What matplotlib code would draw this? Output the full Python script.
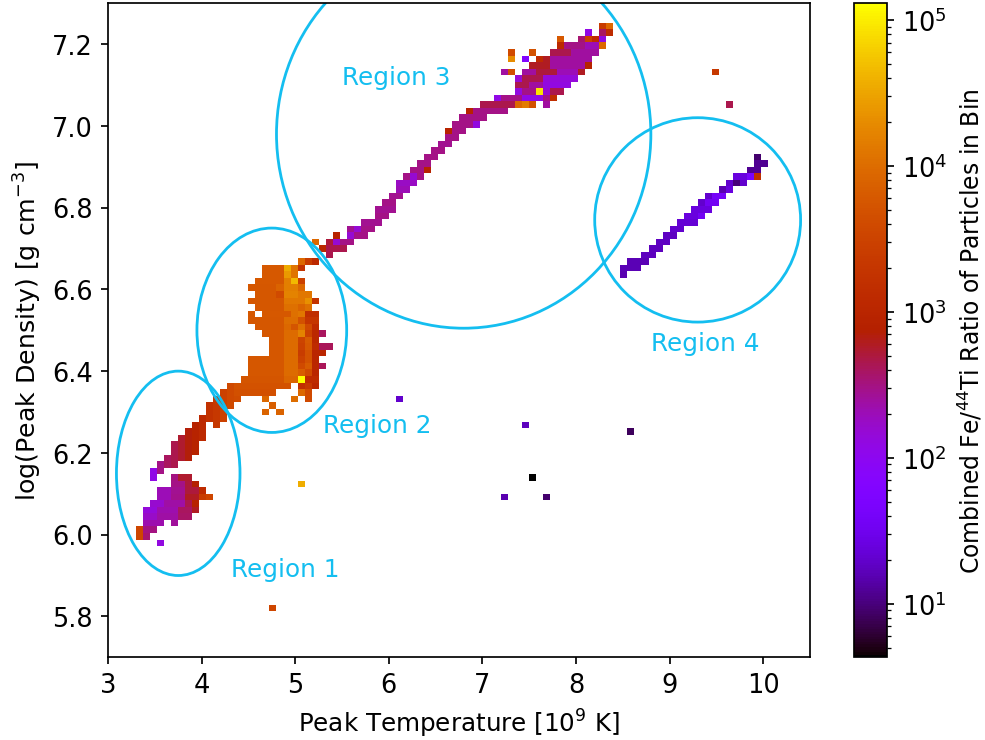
import numpy as np
import matplotlib
matplotlib.use("Agg")
import matplotlib.pyplot as plt
from matplotlib.colors import LogNorm
from matplotlib.patches import Ellipse

# 100 x 100 bins over the plotted range
T_EDGES = np.linspace(3.0, 10.5, 101)
RHO_EDGES = np.linspace(5.7, 7.3, 101)

# filled bins, as rows of bin indices:
# (density bin, first temperature bin, last temperature bin, Fe/44Ti ratio)
REGION1_BLOB = [
    (27, 9, 9, 320), (27, 10, 11, 550),
    (26, 9, 10, 300), (26, 11, 11, 500), (26, 12, 12, 800),
    (25, 7, 8, 200), (25, 9, 10, 280), (25, 11, 12, 520), (25, 13, 13, 1300),
    (24, 7, 8, 200), (24, 9, 10, 290), (24, 11, 12, 600), (24, 13, 13, 2500), (24, 14, 14, 3500),
    (23, 6, 7, 160), (23, 8, 10, 240), (23, 11, 11, 450), (23, 12, 12, 900),
    (22, 5, 6, 140), (22, 7, 9, 220), (22, 10, 11, 400), (22, 12, 12, 600),
    (21, 5, 6, 170), (21, 7, 9, 240), (21, 10, 11, 380),
    (20, 5, 7, 220), (20, 9, 9, 260),
    (19, 4, 4, 3500), (19, 5, 6, 320),
    (18, 4, 4, 3500), (18, 5, 5, 350),
    (17, 7, 7, 130),
]

# lower diagonal band, as columns: (temperature bin, first rho bin, last rho bin, ratio)
REGION1_BAND = [
    (6, 27, 28, 120), (7, 28, 29, 300), (8, 29, 30, 400), (9, 29, 32, 450),
    (10, 30, 33, 550), (11, 30, 34, 700), (12, 31, 35, 900), (13, 33, 36, 1200),
    (14, 36, 38, 1700), (15, 35, 39, 2200), (16, 36, 40, 3000), (17, 38, 41, 3800),
]

REGION2 = [
    (60, 27, 27, 9000), (60, 28, 28, 2500), (60, 29, 29, 1200),
    (59, 22, 24, 6000), (59, 25, 25, 35000), (59, 26, 26, 12000), (59, 27, 27, 1800),
    (58, 22, 24, 6000), (58, 25, 25, 25000), (58, 26, 26, 12000),
    (57, 21, 24, 6000), (57, 25, 25, 15000), (57, 26, 26, 45000), (57, 27, 27, 3000),
    (56, 20, 23, 5800), (56, 24, 24, 8000), (56, 25, 26, 15000), (56, 27, 27, 9000),
    (55, 21, 23, 5800), (55, 24, 24, 4000), (55, 25, 26, 16000), (55, 27, 28, 13000),
    (54, 20, 24, 5800), (54, 25, 27, 13000), (54, 28, 28, 22000), (54, 29, 29, 1800),
    (53, 21, 24, 5800), (53, 25, 26, 11000), (53, 27, 27, 8000), (53, 28, 28, 11000),
    (52, 20, 20, 5800), (52, 22, 25, 6000), (52, 26, 26, 11000), (52, 27, 27, 13000), (52, 28, 29, 1500),
    (51, 20, 24, 5800), (51, 25, 26, 10000), (51, 27, 27, 5000), (51, 28, 29, 2000),
    (50, 21, 24, 5800), (50, 25, 25, 9000), (50, 26, 26, 5500), (50, 27, 27, 11000),
    (50, 28, 28, 4000), (50, 29, 29, 1300),
    (49, 22, 24, 5800), (49, 25, 26, 9500), (49, 27, 27, 16000), (49, 28, 28, 3000),
    (49, 29, 29, 1100), (49, 30, 30, 400),
    (48, 23, 24, 5800), (48, 25, 26, 9500), (48, 27, 27, 3200), (48, 28, 28, 6500), (48, 29, 29, 1100),
    (47, 23, 24, 5800), (47, 25, 26, 9500), (47, 27, 27, 3000), (47, 28, 28, 6000),
    (47, 29, 29, 1300), (47, 30, 31, 420),
    (46, 23, 24, 5800), (46, 25, 26, 9500), (46, 27, 27, 2500), (46, 28, 28, 5000), (46, 29, 30, 1000),
    (45, 20, 24, 5800), (45, 25, 26, 9500), (45, 27, 27, 3000), (45, 28, 28, 5000), (45, 29, 29, 1000),
    (44, 20, 24, 5800), (44, 25, 26, 9500), (44, 27, 27, 4000), (44, 28, 28, 6500),
    (44, 29, 29, 1000), (44, 30, 30, 420),
    (43, 20, 24, 5800), (43, 25, 26, 9500), (43, 27, 27, 7000), (43, 28, 28, 4000), (43, 29, 29, 1000),
    (42, 19, 24, 5500), (42, 25, 26, 8500), (42, 27, 27, 130000), (42, 28, 29, 1300),
    (41, 18, 25, 5000), (41, 27, 27, 1500), (41, 28, 28, 2200), (41, 29, 29, 1000),
    (40, 18, 23, 4600), (40, 27, 27, 9000), (40, 28, 28, 4000),
    (39, 18, 18, 4200), (39, 22, 22, 9000), (39, 26, 26, 10000), (39, 28, 28, 4000),
    (38, 23, 23, 7000),
    (37, 22, 22, 8000), (37, 24, 24, 8000),
]

BAND2 = [
    (61, 31, 31, 450),
    (62, 30, 30, 1100), (62, 31, 33, 450),
    (63, 29, 29, 9000), (63, 31, 31, 500), (63, 32, 32, 150), (63, 33, 34, 300),
    (64, 32, 32, 900), (64, 34, 34, 150), (64, 35, 36, 300),
    (65, 34, 34, 280), (65, 35, 35, 150), (65, 36, 37, 300),
    (66, 36, 38, 280),
    (67, 38, 39, 300),
    (68, 38, 40, 280),
    (69, 39, 40, 300),
    (70, 40, 41, 280),
    (71, 41, 42, 200),
    (72, 41, 43, 180),
    (73, 42, 42, 300), (73, 43, 43, 150), (73, 44, 44, 300),
    (74, 43, 44, 300), (74, 45, 45, 900),
    (75, 44, 45, 300),
    (76, 45, 46, 300),
    (77, 46, 47, 300),
    (78, 47, 48, 280),
    (79, 48, 49, 300),
    (80, 48, 48, 900), (80, 49, 50, 300),
    (81, 49, 51, 300), (81, 52, 52, 130),
    (82, 50, 53, 300),
]

REGION3 = [
    (83, 51, 51, 900), (83, 52, 56, 300),
    (84, 53, 57, 450), (84, 58, 58, 9000), (84, 59, 59, 14000), (84, 60, 60, 5000), (84, 62, 62, 250),
    (85, 55, 55, 120), (85, 56, 58, 300), (85, 59, 61, 120), (85, 62, 62, 300), (85, 63, 63, 1500),
    (86, 58, 58, 130), (86, 59, 60, 300), (86, 61, 61, 90000), (86, 62, 62, 150), (86, 63, 64, 450),
    (87, 58, 59, 450), (87, 60, 61, 250), (87, 62, 65, 130),
    (88, 58, 58, 150), (88, 59, 61, 450), (88, 62, 66, 140),
    (89, 56, 56, 250), (89, 57, 57, 4500), (89, 59, 60, 250), (89, 61, 63, 500),
    (89, 64, 66, 200), (89, 67, 67, 600),
    (90, 60, 62, 600), (90, 63, 67, 250), (90, 68, 68, 900),
    (91, 57, 57, 20000), (91, 59, 59, 60), (91, 61, 61, 1300), (91, 62, 62, 600), (91, 63, 68, 250),
    (92, 57, 57, 4000), (92, 60, 60, 5000), (92, 63, 65, 450), (92, 66, 69, 250),
    (93, 64, 64, 1200), (93, 65, 67, 300), (93, 68, 69, 200), (93, 70, 70, 9000),
    (94, 64, 64, 6000), (94, 67, 67, 350), (94, 68, 68, 3000), (94, 69, 69, 1300), (94, 70, 70, 130),
    (95, 68, 68, 120), (95, 70, 70, 400), (95, 71, 71, 1300),
    (96, 70, 70, 2500), (96, 71, 71, 9000),
]

REGION4 = [
    (58, 73, 73, 15), (59, 73, 75, 16), (60, 74, 76, 16), (61, 76, 77, 17),
    (62, 77, 78, 17), (63, 78, 79, 18), (64, 79, 80, 18), (65, 80, 81, 20),
    (66, 81, 83, 22), (67, 82, 83, 25), (67, 84, 84, 35), (68, 83, 85, 25),
    (69, 84, 84, 20), (69, 85, 86, 35), (70, 85, 85, 20), (70, 86, 87, 40),
    (71, 87, 87, 15), (71, 88, 88, 25), (72, 88, 88, 20), (72, 89, 89, 10), (72, 90, 90, 20),
    (73, 89, 90, 25), (73, 91, 91, 45), (73, 92, 92, 1500),
    (74, 91, 92, 12), (75, 92, 93, 12), (76, 92, 92, 9),
]

# isolated bins: (temperature bin, rho bin, ratio)
SINGLES = [
    (23, 7, 3500), (27, 26, 37000), (41, 39, 20), (59, 35, 17), (60, 27, 4.3),
    (56, 24, 15), (62, 24, 9), (74, 34, 8), (86, 89, 2200), (88, 84, 450),
]

REGION_LABELS = ["Region 1", "Region 2", "Region 3", "Region 4"]
# ellipse centre (T, log rho), width, height and label anchor
ELLIPSES = [((3.75, 6.15), 1.32, 0.50), ((4.75, 6.50), 1.60, 0.50),
            ((6.80, 6.98), 4.00, 0.95), ((9.30, 6.77), 2.20, 0.50)]
LABEL_POS = [(4.31, 5.899), (5.30, 6.251), (5.50, 7.102), (8.80, 6.450)]

HIGHLIGHT = "#14BEF0"

grid = np.full((100, 100), np.nan)
for rows in (REGION1_BLOB, REGION2, BAND2, REGION3, REGION4):
    for iy, ix0, ix1, v in rows:
        grid[iy, ix0:ix1 + 1] = v
for ix, iy0, iy1, v in REGION1_BAND:
    grid[iy0:iy1 + 1, ix] = v
for ix, iy, v in SINGLES:
    grid[iy, ix] = v

fig = plt.figure(figsize=(6.4, 4.81), dpi=154)
ax = fig.add_axes([0.1096, 0.1117, 0.7122, 0.8829])
cax = fig.add_axes([0.8665, 0.1117, 0.0335, 0.8829])

mesh = ax.pcolormesh(T_EDGES, RHO_EDGES, np.ma.masked_invalid(grid),
                     cmap="gnuplot", norm=LogNorm(vmin=4.3, vmax=1.3e5))

for (cen, w, h), label, (tx, ty) in zip(ELLIPSES, REGION_LABELS, LABEL_POS):
    ax.add_patch(Ellipse(cen, w, h, fill=False, edgecolor=HIGHLIGHT, lw=1.3))
    ax.text(tx, ty, label, color=HIGHLIGHT, fontsize=11.6, ha="left", va="baseline")

ax.set_xlim(3, 10.5)
ax.set_ylim(5.7, 7.3)
ax.tick_params(labelsize=12)
ax.set_xlabel("Peak Temperature [$10^9$ K]", fontsize=11.5)
ax.set_ylabel("log(Peak Density) [g cm$^{-3}$]", fontsize=11.8)

cbar = fig.colorbar(mesh, cax=cax)
cbar.ax.tick_params(labelsize=12)
cbar.set_label("Combined Fe/$^{44}$Ti Ratio of Particles in Bin", fontsize=11)

fig.savefig("out.png", dpi=154)
